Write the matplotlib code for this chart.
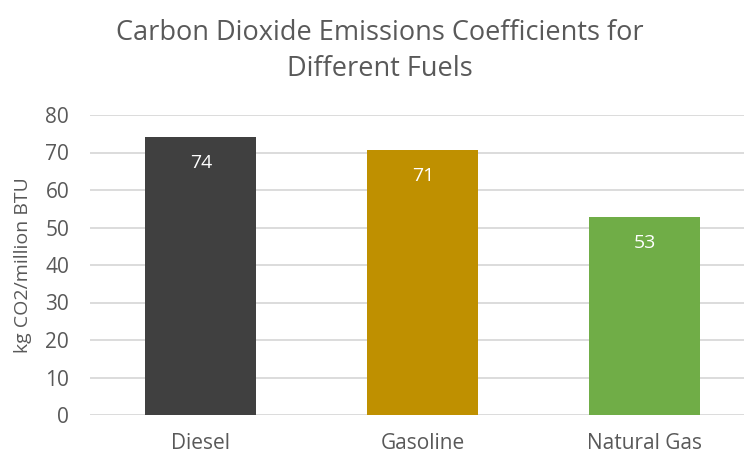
import matplotlib.pyplot as plt

plt.rcParams['font.family'] = ['Open Sans', 'DejaVu Sans']

# data
fuels = ['Diesel', 'Gasoline', 'Natural Gas']
co2 = [74.14, 70.66, 52.91]
labels = ['74', '71', '53']
colors = ['#404040', '#BF9000', '#70AD47']

txt = '#595959'

fig = plt.figure(figsize=(7.44, 4.55), dpi=100)
ax = fig.add_axes([90 / 744, (455 - 415) / 455, (744 - 90) / 744, 300 / 455])

x = range(len(fuels))
bars = ax.bar(x, co2, width=0.5, color=colors, zorder=3)
for b, lab in zip(bars, labels):
    ax.annotate(lab, (b.get_x() + b.get_width() / 2, b.get_height()),
                xytext=(0, -19), textcoords='offset points',
                ha='center', va='center', color='white', fontsize=14, zorder=4)

ax.set_ylim(0, 80)
ax.set_xlim(-0.5, 2.446)
ax.set_yticks(range(0, 81, 10))
ax.set_xticks(list(x))
ax.set_xticklabels(fuels)
ax.grid(axis='y', color='#D9D9D9', linewidth=1.3, zorder=0)
for s in ax.spines.values():
    s.set_visible(False)
ax.tick_params(length=0, colors=txt, labelsize=15)
ax.tick_params(axis='x', pad=13)
ax.tick_params(axis='y', pad=15)

ax.set_ylabel('kg CO2/million BTU', color=txt, fontsize=14)
ax.yaxis.set_label_coords(-58 / 654, 0.5)

fig.text(380 / 744, 1 - 51 / 455, 'Carbon Dioxide Emissions Coefficients for\nDifferent Fuels',
         ha='center', va='center', color=txt, fontsize=19.5, linespacing=1.4)

fig.savefig('out.png', dpi=100)
